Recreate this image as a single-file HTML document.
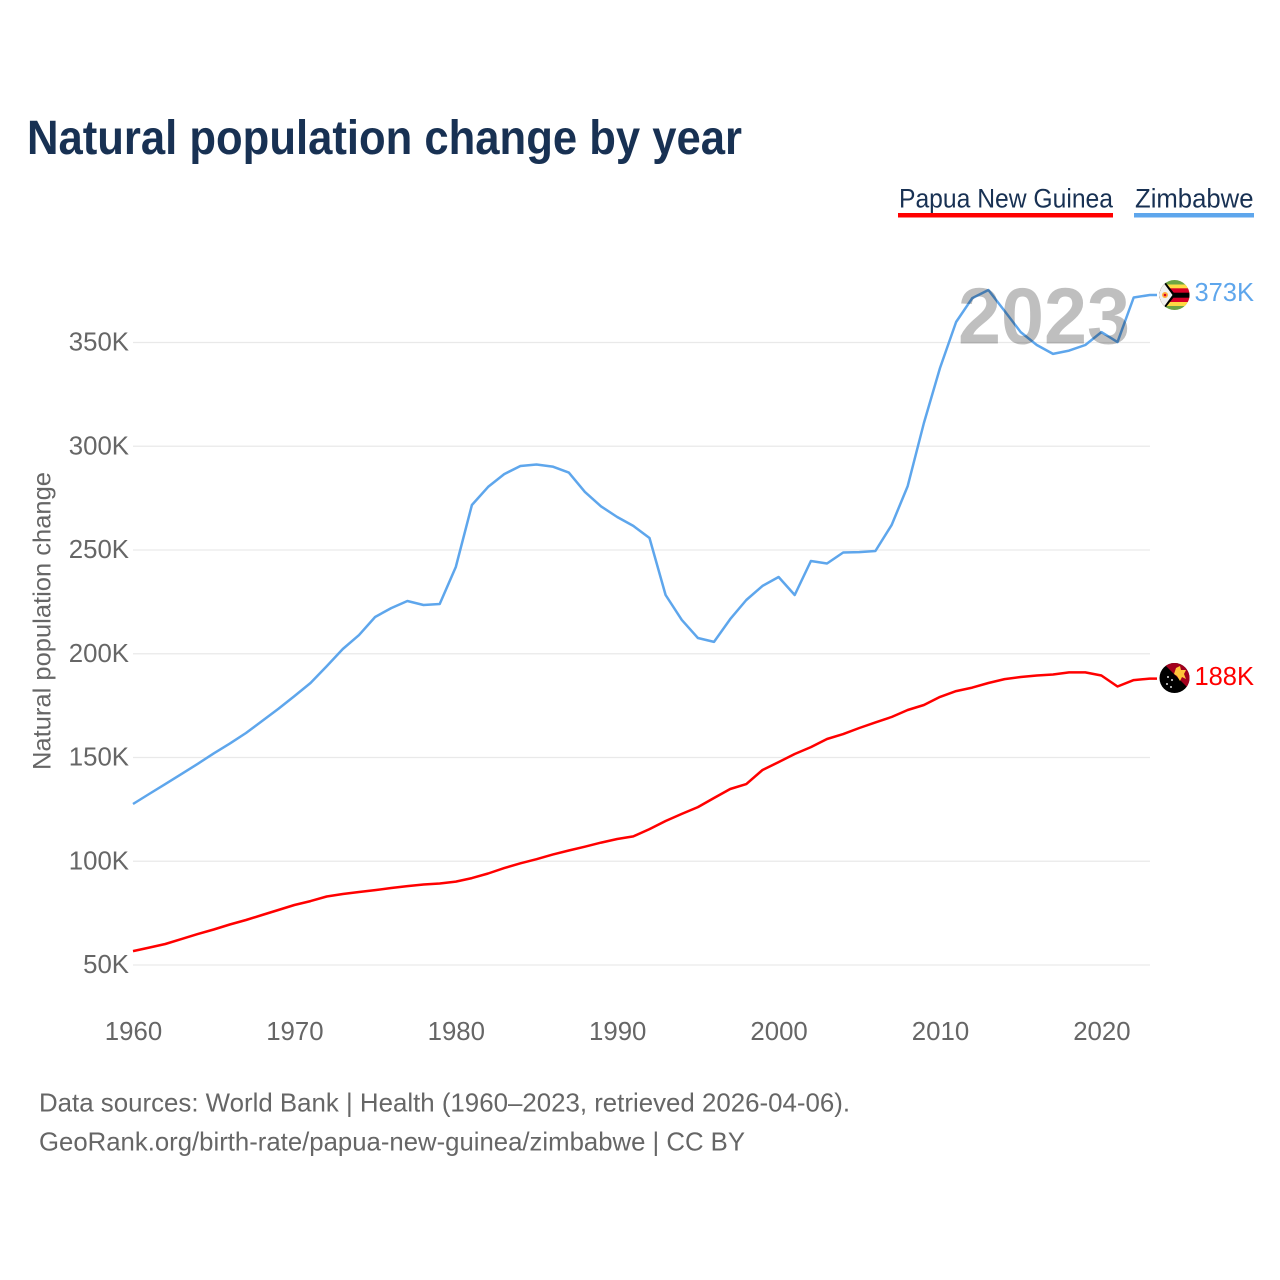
<!DOCTYPE html>
<html lang="en">
<head>
<meta charset="utf-8">
<title>Natural population change by year</title>
<style>
  html, body { margin: 0; padding: 0; background: #fff; }
  svg { display: block; font-family: "Liberation Sans", sans-serif; }
</style>
</head>
<body>
<svg id="chart" xmlns="http://www.w3.org/2000/svg" width="1280" height="1280" viewBox="0 0 1280 1280">
  <defs>
    <clipPath id="clip-zw"><circle cx="1174.5" cy="295" r="15"/></clipPath>
    <clipPath id="clip-pg"><circle cx="1174.5" cy="678" r="15"/></clipPath>
  </defs>
  <rect width="1280" height="1280" fill="#fff"/>
  <text x="27" y="154" font-size="48.5" font-weight="700" fill="#183153" textLength="715" lengthAdjust="spacingAndGlyphs">Natural population change by year</text>

  <g>
    <text x="899" y="207.5" font-size="27" fill="#183153" textLength="214" lengthAdjust="spacingAndGlyphs">Papua New Guinea</text>
    <rect x="898" y="213" width="215" height="4.5" fill="#ff0000"/>
  </g>
  <g>
    <text x="1135" y="207.5" font-size="27" fill="#183153" textLength="118.5" lengthAdjust="spacingAndGlyphs">Zimbabwe</text>
    <rect x="1134" y="213" width="120" height="4.5" fill="#5ea6ec"/>
  </g>

  <g id="grid"></g>
  <g id="y-ticks"></g>
  <g id="x-ticks"></g>
  <text transform="translate(50.5,621) rotate(-90)" text-anchor="middle" font-size="25" fill="#666" textLength="298" lengthAdjust="spacingAndGlyphs">Natural population change</text>
  <g id="series"></g>

  <text x="958" y="343.5" font-size="80" font-weight="700" fill="#000" fill-opacity="0.25" textLength="172" lengthAdjust="spacingAndGlyphs">2023</text>

  <g clip-path="url(#clip-zw)">
    <rect x="1159" y="280" width="31" height="30" fill="#6da544"/>
    <rect x="1159" y="284.5" width="31" height="21.5" fill="#ffda44"/>
    <rect x="1159" y="288.3" width="31" height="13.7" fill="#d80027"/>
    <rect x="1159" y="292.7" width="31" height="5" fill="#000"/>
    <polygon points="1155,269 1175.5,295 1155,321" fill="#000"/>
    <polygon points="1155,271 1172.5,295 1155,319" fill="#f0f0f0"/>
    <circle cx="1165" cy="295" r="3" fill="#ffb03a"/>
    <circle cx="1165" cy="295" r="1.3" fill="#d80027"/>
  </g>
  <g clip-path="url(#clip-pg)">
    <rect x="1159" y="663" width="31" height="30" fill="#000"/>
    <polygon points="1162,662 1192,662 1192,692" fill="#a2001d"/>
    <polygon points="1176,668 1180,666 1181,670 1186,670 1184,674 1186,679 1182,677 1180,681 1177,676 1174,674" fill="#ffc43a"/>
    <circle cx="1168" cy="677" r="1" fill="#ddd"/>
    <circle cx="1172" cy="680" r="1" fill="#ddd"/>
    <circle cx="1167" cy="684" r="1" fill="#ddd"/>
    <circle cx="1171" cy="687" r="1" fill="#ddd"/>
  </g>

  <text x="1254" y="301" text-anchor="end" font-size="25.5" fill="#5ea6ec">373K</text>
  <text x="1254" y="685" text-anchor="end" font-size="25.5" fill="#ff0000">188K</text>

  <text x="39" y="1111.5" font-size="26" fill="#666" textLength="811" lengthAdjust="spacingAndGlyphs">Data sources: World Bank | Health (1960–2023, retrieved 2026-04-06).</text>
  <text x="39" y="1150.5" font-size="26" fill="#666" textLength="706" lengthAdjust="spacingAndGlyphs">GeoRank.org/birth-rate/papua-new-guinea/zimbabwe | CC BY</text>
</svg>
<script>
const startYear = 1960;
const yTickValues = [50, 100, 150, 200, 250, 300, 350];
const yTickLabels = ['50K', '100K', '150K', '200K', '250K', '300K', '350K'];
const xTickYears = [1960, 1970, 1980, 1990, 2000, 2010, 2020];
const zimbabwe = [127.6, 132.4, 137.2, 142, 146.9, 152, 156.7, 161.8, 167.6, 173.4,
  179.6, 185.9, 194, 202.3, 209, 217.7, 222, 225.4, 223.5, 224,
  241.8, 271.7, 280.4, 286.6, 290.5, 291.2, 290.2, 287.3, 278, 271,
  265.9, 261.6, 255.8, 228.3, 216.3, 207.6, 205.7, 216.7, 225.9, 232.7,
  237, 228.3, 244.7, 243.5, 248.8, 249, 249.5, 262, 280.8, 311.2,
  337.7, 359.9, 371.4, 375.3, 365.2, 355, 348.8, 344.5, 346.1, 348.8,
  355, 350.2, 371.7, 372.9];
const papuaNewGuinea = [56.7, 58.4, 60.1, 62.5, 64.9, 67.1, 69.5, 71.7, 74.1, 76.5,
  78.9, 80.8, 83, 84.2, 85.2, 86.1, 87.1, 88, 88.8, 89.3,
  90.2, 91.9, 94.1, 96.7, 99, 101, 103.2, 105.2, 107, 109,
  110.7, 112, 115.5, 119.4, 122.8, 126.1, 130.5, 134.8, 137.2, 144,
  147.8, 151.7, 155, 158.9, 161.3, 164.2, 166.9, 169.5, 172.9, 175.3,
  179.2, 182, 183.7, 185.9, 187.8, 188.8, 189.5, 190, 191, 191,
  189.5, 184.2, 187.3, 188];

const SVG_NS = 'http://www.w3.org/2000/svg';
function xScale(year) { return 133 + (year - 1960) * 16.14; }
function yScale(value) { return 965 - (value - 50) * 2.075; }

const gridGroup = document.getElementById('grid');
const yGroup = document.getElementById('y-ticks');
yTickValues.forEach(function (v, i) {
  const line = document.createElementNS(SVG_NS, 'line');
  
  
  line.setAttribute('x1', 133);
  line.setAttribute('x2', 1150);
  line.setAttribute('y1', yScale(v));
  line.setAttribute('y2', yScale(v));
  line.setAttribute('stroke', '#e9e9e9');
  line.setAttribute('stroke-width', '1.2');
  gridGroup.appendChild(line);

  const label = document.createElementNS(SVG_NS, 'text');
  
  
  label.setAttribute('x', 129);
  label.setAttribute('y', yScale(v) + 8);
  label.setAttribute('text-anchor', 'end');
  label.setAttribute('font-size', '25.8');
  label.setAttribute('fill', '#666');
  label.textContent = yTickLabels[i];
  yGroup.appendChild(label);
});

const xGroup = document.getElementById('x-ticks');
xTickYears.forEach(function (year) {
  const label = document.createElementNS(SVG_NS, 'text');
  
  
  label.setAttribute('x', xScale(year) + 0.5);
  label.setAttribute('y', 1040);
  label.setAttribute('text-anchor', 'middle');
  label.setAttribute('font-size', '25.8');
  label.setAttribute('fill', '#666');
  label.textContent = String(year);
  xGroup.appendChild(label);
});

function linePath(values) {
  const coords = values.map(function (v, i) {
    return xScale(startYear + i).toFixed(1) + ',' + yScale(v).toFixed(1);
  });
  const last = values[values.length - 1];
  coords.push('1157,' + yScale(last).toFixed(1));
  return 'M' + coords.join('L');
}

const seriesGroup = document.getElementById('series');

const zimbabwePath = document.createElementNS(SVG_NS, 'path');


zimbabwePath.setAttribute('d', linePath(zimbabwe));
zimbabwePath.setAttribute('fill', 'none');
zimbabwePath.setAttribute('stroke', '#5ea6ec');
zimbabwePath.setAttribute('stroke-width', '2.5');
zimbabwePath.setAttribute('stroke-linejoin', 'round');
seriesGroup.appendChild(zimbabwePath);

const pngPath = document.createElementNS(SVG_NS, 'path');


pngPath.setAttribute('d', linePath(papuaNewGuinea));
pngPath.setAttribute('fill', 'none');
pngPath.setAttribute('stroke', '#ff0000');
pngPath.setAttribute('stroke-width', '2.5');
pngPath.setAttribute('stroke-linejoin', 'round');
seriesGroup.appendChild(pngPath);
</script>
</body>
</html>
